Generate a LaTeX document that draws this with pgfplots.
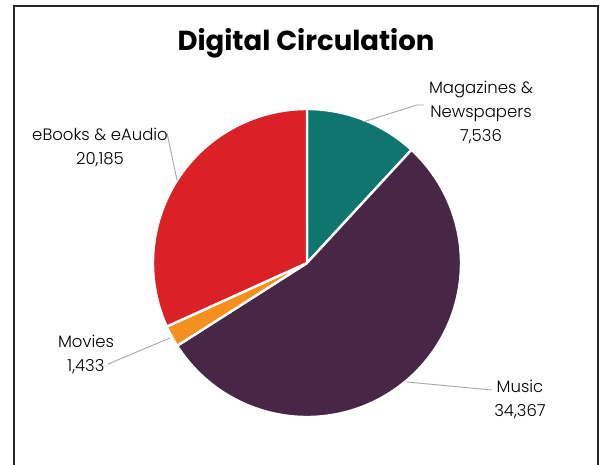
\documentclass[border=0pt]{standalone}
\usepackage{pgfplots}
\usepackage{pgfplotstable}
\pgfplotsset{compat=1.18}
\usepackage{fontspec}
\setmainfont{Poppins}
\IfFontExistsTF{Poppins Light}{\newfontfamily\lbl{Poppins Light}}{\newfontfamily\lbl{Poppins}}
\definecolor{cMag}{HTML}{0E766F}
\definecolor{cMus}{HTML}{472646}
\definecolor{cMov}{HTML}{F5901F}
\definecolor{cEbk}{HTML}{DA2128}
\definecolor{lead}{HTML}{A6A6A6}
\pgfplotstableread[col sep=comma]{
label,value
Magazines,7536
Music,34367
Movies,1433
eBooks,20185
}\circtable
\begin{document}
\begin{tikzpicture}
\pgfplotstablegetelem{0}{value}\of\circtable \edef\vA{\pgfplotsretval}
\pgfplotstablegetelem{1}{value}\of\circtable \edef\vB{\pgfplotsretval}
\pgfplotstablegetelem{2}{value}\of\circtable \edef\vC{\pgfplotsretval}
\pgfplotstablegetelem{3}{value}\of\circtable \edef\vD{\pgfplotsretval}
\edef\tot{\fpeval{\vA+\vB+\vC+\vD}}
\edef\aA{90}
\edef\aB{\fpeval{round(\aA-360*\vA/\tot,4)}}
\edef\aC{\fpeval{round(\aB-360*\vB/\tot,4)}}
\edef\aD{\fpeval{round(\aC-360*\vC/\tot,4)}}
\edef\aE{\fpeval{round(\aD-360*\vD/\tot,4)}}
\begin{axis}[at={(0,0)}, anchor=south west, scale only axis, width=601pt, height=464pt,
  xmin=0, xmax=601, ymin=0, ymax=464, y dir=reverse, hide axis, clip=false]
\draw[black!85, line width=1.2pt] (axis cs:14,6) rectangle (axis cs:598,490);
\addplot[fill=cMag, draw=white, line width=2.4pt, line join=round, domain=\aB:\aA, samples=60, variable=\t]
  ({307+154*cos(t)},{263-154*sin(t)}) -- (axis cs:307,263) -- cycle;
\addplot[fill=cMus, draw=white, line width=2.4pt, line join=round, domain=\aC:\aB, samples=150, variable=\t]
  ({307+154*cos(t)},{263-154*sin(t)}) -- (axis cs:307,263) -- cycle;
\addplot[fill=cMov, draw=white, line width=2.4pt, line join=round, domain=\aD:\aC, samples=10, variable=\t]
  ({307+154*cos(t)},{263-154*sin(t)}) -- (axis cs:307,263) -- cycle;
\addplot[fill=cEbk, draw=white, line width=2.4pt, line join=round, domain=\aE:\aD, samples=100, variable=\t]
  ({307+154*cos(t)},{263-154*sin(t)}) -- (axis cs:307,263) -- cycle;
\draw[lead, line width=0.9pt] (axis cs:363,122) -- (axis cs:417,105) -- (axis cs:424,105);
\draw[lead, line width=0.9pt] (axis cs:177,180) -- (axis cs:167,133);
\draw[lead, line width=0.9pt] (axis cs:170,338) -- (axis cs:108,364);
\draw[lead, line width=0.9pt] (axis cs:407,382) -- (axis cs:492,390);
\node[font=\bfseries\fontsize{27.5}{30}\selectfont] at (axis cs:306,43) {Digital Circulation};
\node[align=center, font=\lbl\fontsize{16.5}{24}\selectfont] at (axis cs:481,112) {Magazines \&\\Newspapers\\7,536};
\node[align=center, font=\lbl\fontsize{16.5}{24}\selectfont] at (axis cs:100,147) {eBooks \& eAudio\\20,185};
\node[align=center, font=\lbl\fontsize{16.5}{24}\selectfont] at (axis cs:86,354) {Movies\\1,433};
\node[align=center, font=\lbl\fontsize{16.5}{24}\selectfont] at (axis cs:520,399) {Music\\34,367};
\end{axis}
\pgfresetboundingbox
\path (0,0) rectangle (601pt,464pt);
\end{tikzpicture}
\end{document}
